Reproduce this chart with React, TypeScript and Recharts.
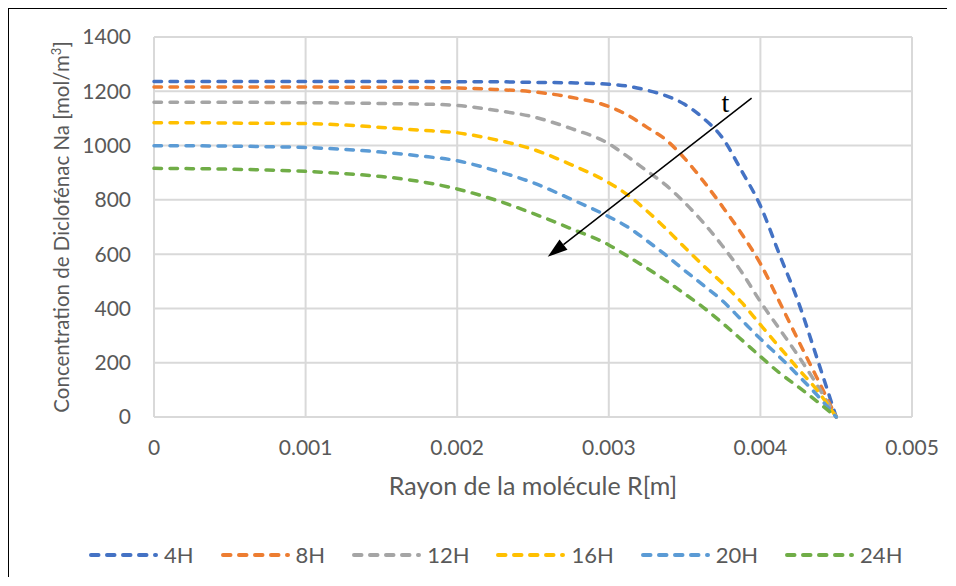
import React from 'react';
import { LineChart, Line, XAxis, YAxis, CartesianGrid, Legend, ReferenceLine } from 'recharts';

const radius = [0, 0.00025, 0.0005, 0.00075, 0.001, 0.00125, 0.0015, 0.00175, 0.002, 0.00225, 0.0025, 0.00275, 0.003, 0.003125, 0.00325, 0.003375, 0.0035, 0.003625, 0.00375, 0.003875, 0.004, 0.004125, 0.00425, 0.004375, 0.0045];

const c4H = [1236, 1236, 1236, 1236, 1236, 1236, 1236, 1236, 1235, 1235, 1233, 1231, 1226, 1219, 1204, 1184, 1152, 1100, 1028, 908, 778, 600, 424, 214, 0];
const c8H = [1216, 1216, 1216, 1216, 1216, 1215, 1215, 1214, 1212, 1207, 1198, 1178, 1144, 1112, 1068, 1022, 953, 868, 775, 676, 565, 425, 282, 142, 0];
const c12H = [1160, 1160, 1160, 1159, 1158, 1157, 1155, 1153, 1148, 1130, 1106, 1063, 1007, 959, 907, 855, 790, 715, 630, 535, 425, 325, 225, 117, 0];
const c16H = [1084, 1084, 1083, 1082, 1081, 1076, 1067, 1057, 1047, 1022, 986, 930, 863, 818, 760, 695, 625, 557, 493, 423, 340, 258, 177, 98, 0];
const c20H = [999, 999, 998, 996, 993, 986, 976, 962, 944, 908, 863, 803, 738, 700, 650, 597, 540, 485, 428, 358, 288, 222, 153, 80, 0];
const c24H = [916, 915, 913, 910, 905, 897, 886, 868, 840, 800, 750, 694, 634, 592, 549, 503, 454, 403, 346, 285, 223, 163, 111, 57, 0];

const seriesNames = ['4H', '8H', '12H', '16H', '20H', '24H'];
const seriesValues = [c4H, c8H, c12H, c16H, c20H, c24H];
const seriesColors = ['#4472C4', '#ED7D31', '#A5A5A5', '#FFC000', '#5B9BD5', '#70AD47'];

const xTicks = [0, 0.001, 0.002, 0.003, 0.004, 0.005];
const yTicks = [0, 200, 400, 600, 800, 1000, 1200, 1400];

const arrowFrom = { x: 0.003942, y: 1175 };
const arrowTo = { x: 0.002597, y: 590 };

const xTitle = 'Rayon de la molécule R[m]';
const yTitle = 'Concentration de Diclofénac Na [mol/m';

const data = radius.map((r, i) => {
  const row: any = { r };
  seriesNames.forEach((n, k) => {
    row[n] = seriesValues[k][i];
  });
  return row;
});

const FONT = 'Lato, "Open Sans", sans-serif';
const TXT = '#595959';

const ArrowShape = (props: any) => {
  const { x1, y1, x2, y2 } = props;
  const ang = Math.atan2(y2 - y1, x2 - x1);
  const len = 20;
  const half = 6.5;
  const bx = x2 - len * Math.cos(ang);
  const by = y2 - len * Math.sin(ang);
  const px = -Math.sin(ang) * half;
  const py = Math.cos(ang) * half;
  return (
    <g>
      <line x1={x1} y1={y1} x2={bx} y2={by} stroke="#000" strokeWidth={1.5} />
      <polygon points={`${x2},${y2} ${bx + px},${by + py} ${bx - px},${by - py}`} fill="#000" />
      <text x={x1 - 30} y={y1 + 14} fontFamily='"Liberation Serif", serif' fontSize={28} fill="#000">t</text>
    </g>
  );
};

const YTitle = (props: any) => {
  const { x, y, height } = props.viewBox;
  const cx = x + 60;
  const cy = y + height / 2;
  return (
    <text transform={`rotate(-90 ${cx} ${cy})`} x={cx} y={cy} textAnchor="middle" fill={TXT} fontSize={20.5} fontFamily={FONT}>
      {yTitle}
      <tspan dy={-8} fontSize={13}>3</tspan>
      <tspan dy={8}>]</tspan>
    </text>
  );
};

const renderLegend = () => (
  <div style={{ display: 'flex', alignItems: 'center', fontFamily: FONT, fontSize: 22, color: TXT, lineHeight: '24px' }}>
    {seriesNames.map((n, i) => (
      <div key={n} style={{ display: 'flex', alignItems: 'center', marginRight: 26 }}>
        <svg width={71} height={10}>
          <line x1={3} y1={5} x2={68} y2={5} stroke={seriesColors[i]} strokeWidth={4} strokeDasharray="7.5 8.5" strokeLinecap="round" />
        </svg>
        <span style={{ marginLeft: 5 }}>{n}</span>
      </div>
    ))}
  </div>
);

export default function App() {
  return (
    <div style={{ marginLeft: -1, marginTop: -1, width: 938, height: 568, borderLeft: '2px solid #000', borderTop: '2px solid #000', background: '#fff', position: 'relative' }}>
      <LineChart width={938} height={568} data={data} margin={{ top: 28, right: 35, left: 0, bottom: 70 }} style={{ fontFamily: FONT }}>
        <CartesianGrid stroke="#d9d9d9" strokeWidth={2} />
        <XAxis
          dataKey="r"
          type="number"
          domain={[0, 0.005]}
          ticks={xTicks}
          tickFormatter={(v: number) => (v === 0 ? '0' : v.toFixed(3))}
          axisLine={false}
          tickLine={false}
          tickMargin={17}
          height={90}
          tick={{ fill: TXT, fontSize: 21, fontFamily: FONT }}
          label={{ value: xTitle, position: 'insideBottom', offset: 12, fill: TXT, fontSize: 25, fontFamily: FONT }}
        />
        <YAxis
          type="number"
          domain={[0, 1400]}
          ticks={yTicks}
          axisLine={false}
          tickLine={false}
          tickMargin={17}
          width={145}
          tick={{ fill: TXT, fontSize: 21, fontFamily: FONT }}
          label={{ content: YTitle }}
        />
        {seriesNames.map((n, i) => (
          <Line
            key={n}
            dataKey={n}
            name={n}
            type="monotone"
            stroke={seriesColors[i]}
            strokeWidth={3.5}
            strokeDasharray="7.5 8.5"
            strokeLinecap="round"
            dot={false}
            activeDot={false}
            isAnimationActive={false}
          />
        ))}
        <ReferenceLine segment={[arrowFrom, arrowTo]} shape={ArrowShape} ifOverflow="visible" />
        <Legend
          layout="horizontal"
          verticalAlign="middle"
          align="center"
          content={renderLegend}
          wrapperStyle={{ top: 534, left: 79, width: 860, height: 24 }}
        />
      </LineChart>
    </div>
  );
}
